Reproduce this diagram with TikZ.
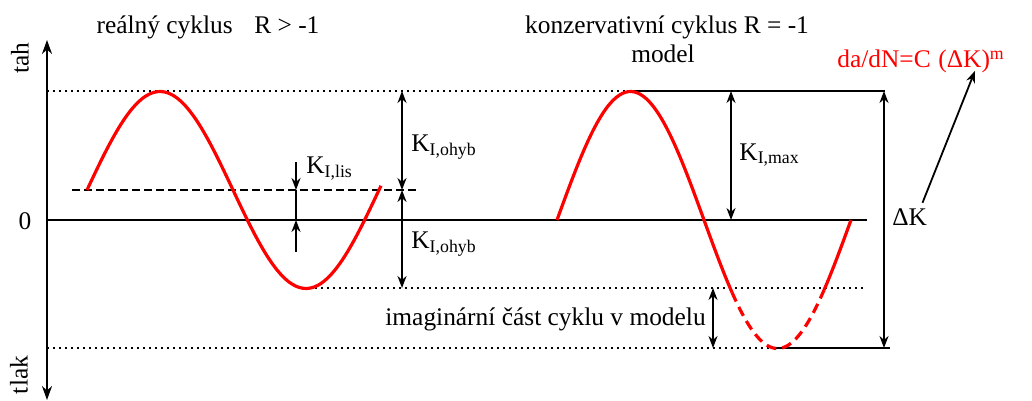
\documentclass[tikz,border=0pt]{standalone}
\usepackage{fontspec}
\setmainfont{Liberation Serif}
\usetikzlibrary{arrows.meta,calc}

\begin{document}
\begin{tikzpicture}[x=0.5pt,y=-0.5pt,font=\fontsize{12.7}{15}\selectfont,
    tip/.style={-{Stealth[length=6pt,width=4.5pt]},line width=0.9pt},
    dim/.style={{Stealth[length=6pt,width=4.5pt]}-{Stealth[length=6pt,width=4.5pt]},line width=0.9pt},
    level/.style={line width=0.7pt,dash pattern=on 1pt off 2pt},
    cyc/.style={red,line width=1.6pt},
    lbl/.style={inner sep=0pt,anchor=base west}]
    \useasboundingbox (0,0) rectangle (1032,401);
    % Axis and levels
    \draw[{Stealth[length=7pt,width=5pt]}-{Stealth[length=7pt,width=5pt]},line width=1pt] (47,400) -- (47,40);
    \draw[line width=1pt] (47,220) -- (867,220);
    \draw[level] (47,91) -- (630,91);
    \draw[line width=1pt] (630,91) -- (885,91);
    \draw[line width=0.7pt,dash pattern=on 4pt off 2pt] (72,190) -- (418,190);
    \draw[level] (315,288) -- (866,288);
    \draw[level] (47,348) -- (776,348);
    \draw[line width=1pt] (776,348) -- (890,348);
    \node[rotate=90] (tah) at (20,58) {tah};
    \node[rotate=90] (tlak) at (19,375) {tlak};
    \node (nula) at (25,221) {0};

    % Real cycle
    \draw[cyc] plot[domain=87:381,samples=80,smooth] (\x,{190-98.5*sin((\x-87)/292*360)});
    \draw[tip] (296,162) -- (296,190);
    \draw[line width=0.9pt] (296,190) -- (296,220);
    \draw[tip] (296,252) -- (296,220);
    \draw[dim] (402,91) -- (402,190);
    \draw[dim] (402,190) -- (402,288);
    \node[lbl] (lis) at (306,173) {K\textsubscript{I,lis}};
    \node[lbl] (ohybA) at (411,151) {K\textsubscript{I,ohyb}};
    \node[lbl] (ohybB) at (411,248) {K\textsubscript{I,ohyb}};
    \node[anchor=base] (realny) at (208,34) {reálný cyklus\hspace{0.85em}R > -1};

    % Model cycle
    \draw[cyc] plot[domain=557:732,samples=60,smooth] (\x,{220-128.5*sin((\x-557)/294*360)});
    \draw[cyc,dash pattern=on 5pt off 3pt] plot[domain=732:824,samples=40,smooth] (\x,{220-128.5*sin((\x-557)/294*360)});
    \draw[cyc] plot[domain=824:851,samples=12,smooth] (\x,{220-128.5*sin((\x-557)/294*360)});
    \draw[dim] (731,91) -- (731,220);
    \draw[dim] (713,288) -- (713,348);
    \draw[dim] (884,91) -- (884,348);
    \node[lbl] (kmax) at (739,160) {K\textsubscript{I,max}};
    \node[lbl] (imag) at (385,325) {imaginární část cyklu v modelu};
    \node[lbl] (dK) at (892,225) {ΔK};
    \node[anchor=base] (konz) at (667,34) {konzervativní cyklus R = -1};
    \node[anchor=base] (model) at (663,63) {model};
    \node[lbl,red] (law) at (837,68) {da/dN=C\hspace{0.3em}(ΔK)\textsuperscript{m}};
    \draw[tip] ($(dK.north east)+(-5,-5)$) -- ($(law.south west)+(138,-3)$);
\end{tikzpicture}
\end{document}
